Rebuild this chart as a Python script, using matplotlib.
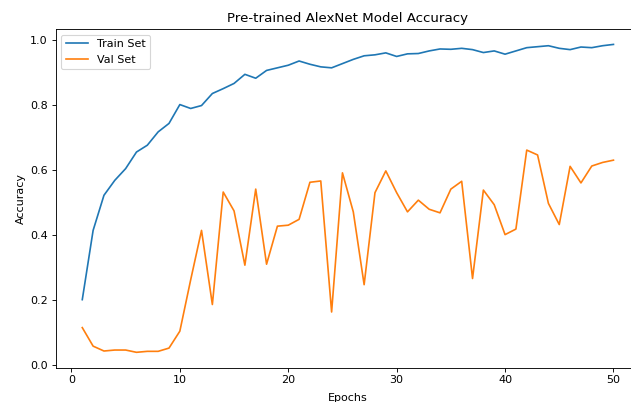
import numpy as np
import matplotlib
matplotlib.use("Agg")
import matplotlib.pyplot as plt

epochs = np.arange(1, 51)

train_acc = [0.201, 0.414, 0.522, 0.568, 0.604, 0.655, 0.676, 0.717, 0.743, 0.801,
             0.789, 0.798, 0.835, 0.850, 0.866, 0.894, 0.882, 0.906, 0.914, 0.922,
             0.935, 0.925, 0.917, 0.914, 0.927, 0.940, 0.951, 0.954, 0.960, 0.949,
             0.957, 0.958, 0.966, 0.972, 0.971, 0.974, 0.970, 0.961, 0.966, 0.956,
             0.966, 0.976, 0.979, 0.982, 0.974, 0.970, 0.978, 0.976, 0.982, 0.986]

val_acc = [0.115, 0.058, 0.043, 0.046, 0.046, 0.039, 0.042, 0.042, 0.052, 0.104,
           0.262, 0.414, 0.186, 0.532, 0.474, 0.307, 0.541, 0.310, 0.427, 0.430,
           0.448, 0.562, 0.566, 0.163, 0.591, 0.471, 0.247, 0.530, 0.597, 0.530,
           0.471, 0.507, 0.479, 0.468, 0.541, 0.565, 0.266, 0.538, 0.493, 0.401,
           0.418, 0.661, 0.646, 0.497, 0.432, 0.611, 0.560, 0.612, 0.623, 0.630]

DPI = 80
fig = plt.figure(figsize=(631 / DPI, 402 / DPI), dpi=DPI)
# axes runs slightly past the right edge of the canvas
ax = fig.add_axes([0.0883, 0.0853, 0.926, 0.8425])

ax.plot(epochs, train_acc, label="Train Set")
ax.plot(epochs, val_acc, label="Val Set")
ax.set_title("Pre-trained AlexNet Model Accuracy")
ax.set_xlabel("Epochs", labelpad=6.5)
ax.set_ylabel("Accuracy")
ax.legend(loc="upper left")

fig.savefig("out.png", dpi=DPI)
